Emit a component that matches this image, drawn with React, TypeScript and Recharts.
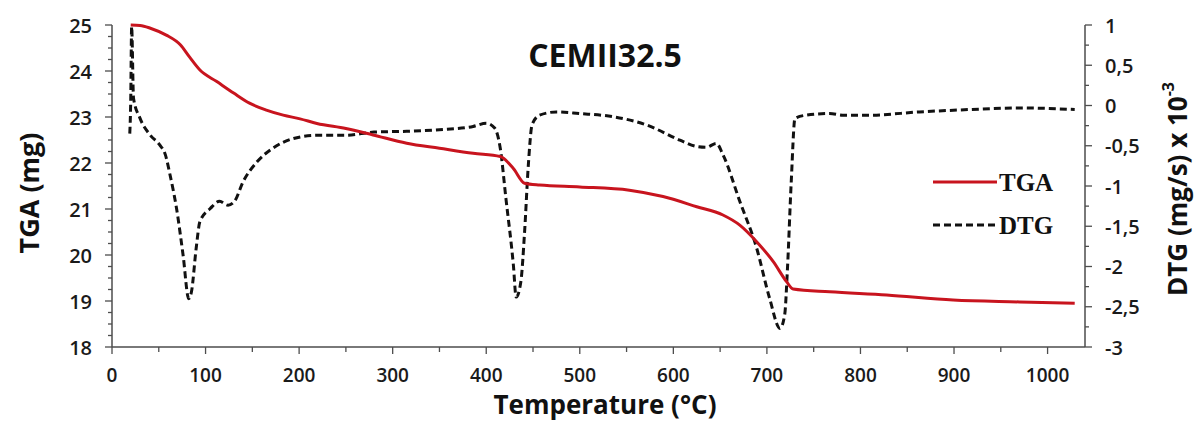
import React from 'react';
import { LineChart, Line, XAxis, YAxis } from 'recharts';

// TGA curve (mass in mg vs temperature in °C)
const tgaTemp = [20, 30, 41, 58, 73, 83, 94, 112, 130, 147, 165, 183, 201, 219, 250, 279, 315, 350, 386, 415, 429, 441, 457, 500, 553, 589, 625, 653, 671, 689, 707, 721, 728, 767, 828, 899, 970, 1029];
const tgaMass = [25.0, 24.99, 24.93, 24.78, 24.57, 24.3, 24.02, 23.77, 23.52, 23.3, 23.15, 23.04, 22.96, 22.86, 22.75, 22.61, 22.43, 22.32, 22.21, 22.14, 21.88, 21.56, 21.52, 21.48, 21.41, 21.27, 21.05, 20.87, 20.65, 20.29, 19.85, 19.42, 19.26, 19.2, 19.13, 19.02, 18.98, 18.95];

// DTG curve (mg/s x 10^-3 vs temperature in °C)
const dtgTemp = [19, 20, 21, 23, 30, 41, 51, 57, 62, 69, 76, 82, 85, 90, 94, 105, 115, 124, 131, 140, 155, 172, 194, 219, 250, 280, 315, 350, 386, 400, 409, 415, 421, 429, 432, 437, 441, 445, 449, 457, 475, 500, 536, 571, 607, 625, 635, 646, 653, 671, 689, 703, 714, 719, 722, 726, 730, 742, 767, 781, 810, 863, 917, 970, 1029];
const dtgRate = [-0.35, 0.05, 0.98, 0.09, -0.16, -0.37, -0.49, -0.61, -0.86, -1.28, -1.86, -2.4, -2.31, -1.77, -1.44, -1.28, -1.19, -1.24, -1.19, -0.95, -0.7, -0.53, -0.41, -0.37, -0.37, -0.33, -0.32, -0.3, -0.26, -0.22, -0.28, -0.53, -1.15, -1.98, -2.38, -2.19, -1.57, -0.74, -0.24, -0.12, -0.08, -0.1, -0.14, -0.24, -0.43, -0.51, -0.52, -0.47, -0.61, -1.19, -1.77, -2.4, -2.77, -2.6, -2.02, -0.95, -0.16, -0.12, -0.1, -0.12, -0.12, -0.08, -0.05, -0.03, -0.05];

// axis ticks (majors carry labels)
const xMajor = [0, 100, 200, 300, 400, 500, 600, 700, 800, 900, 1000];
const tgaMajor = [18, 19, 20, 21, 22, 23, 24, 25];
const dtgMajor = [-3, -2.5, -2, -1.5, -1, -0.5, 0, 0.5, 1];

const withMinors = (majors: number[], parts: number) => {
    const out: number[] = [];
    for (let i = 0; i < majors.length; i++) {
        out.push(majors[i]);
        if (i < majors.length - 1) {
            const step = (majors[i + 1] - majors[i]) / parts;
            for (let k = 1; k < parts; k++) out.push(+(majors[i] + k * step).toFixed(4));
        }
    }
    return out;
};

const xTicks = withMinors(xMajor, 2);
const tgaTicks = withMinors(tgaMajor, 4);
const dtgTicks = withMinors(dtgMajor, 2);

const tgaData = tgaTemp.map((t, i) => ({ t, v: tgaMass[i] }));
const dtgData = dtgTemp.map((t, i) => ({ t, v: dtgRate[i] }));

const W = 1187;
const H = 413;
const AXIS = '#4d4d4d';
const RED = '#c8141e';
const font = "'Open Sans', 'DejaVu Sans', sans-serif";
const tickText = { fontFamily: font, fontSize: 19, fontWeight: 600, fill: '#1a1a1a' } as const;

const XTick = (props: any) => {
    const { x, y, payload } = props;
    const major = xMajor.includes(payload.value);
    return (
        <g>
            <line x1={x} x2={x} y1={y} y2={y + (major ? 7 : 5)} stroke={AXIS} strokeWidth={1.3} />
            {major && (
                <text x={x} y={y + 28} textAnchor="middle" dominantBaseline="central" {...tickText}>
                    {payload.value}
                </text>
            )}
        </g>
    );
};

const TgaTick = (props: any) => {
    const { x, y, payload } = props;
    const major = tgaMajor.includes(payload.value);
    return (
        <g>
            <line x1={x - (major ? 7 : 4)} x2={x} y1={y} y2={y} stroke={AXIS} strokeWidth={1.3} />
            {major && (
                <text x={x - 20} y={y} textAnchor="end" dominantBaseline="central" {...tickText} fontSize={20}>
                    {payload.value}
                </text>
            )}
        </g>
    );
};

const DtgTick = (props: any) => {
    const { x, y, payload } = props;
    const major = dtgMajor.includes(payload.value);
    return (
        <g>
            <line x1={x} x2={x + (major ? 7 : 4)} y1={y} y2={y} stroke={AXIS} strokeWidth={1.3} />
            {major && (
                <text x={x + 20} y={y} textAnchor="start" dominantBaseline="central" {...tickText} fontSize={20}>
                    {String(payload.value).replace('.', ',')}
                </text>
            )}
        </g>
    );
};

export default function App() {
    return (
        <div style={{ position: 'relative', width: W, height: H }}>
            <LineChart width={W} height={H} margin={{ top: 17, right: 20, bottom: 0, left: 0 }}>
                <XAxis
                    dataKey="t"
                    type="number"
                    domain={[0, 1040]}
                    ticks={xTicks}
                    interval={0}
                    height={74}
                    tickSize={0}
                    tickMargin={0}
                    tick={<XTick />}
                    axisLine={{ stroke: AXIS, strokeWidth: 1.5 }}
                    tickLine={false}
                />
                <YAxis
                    yAxisId="tga"
                    type="number"
                    domain={[18, 25]}
                    ticks={tgaTicks}
                    interval={0}
                    width={104}
                    tickSize={0}
                    tickMargin={0}
                    tick={<TgaTick />}
                    axisLine={{ stroke: AXIS, strokeWidth: 1.5 }}
                    tickLine={false}
                />
                <YAxis
                    yAxisId="dtg"
                    orientation="right"
                    type="number"
                    domain={[-3, 1]}
                    ticks={dtgTicks}
                    interval={0}
                    width={90}
                    tickSize={0}
                    tickMargin={0}
                    tick={<DtgTick />}
                    axisLine={{ stroke: AXIS, strokeWidth: 1.5 }}
                    tickLine={false}
                />
                <Line
                    yAxisId="dtg"
                    data={dtgData}
                    dataKey="v"
                    type="monotone"
                    stroke="#111"
                    strokeWidth={3}
                    strokeDasharray="7 4"
                    dot={false}
                    isAnimationActive={false}
                />
                <Line
                    yAxisId="tga"
                    data={tgaData}
                    dataKey="v"
                    type="monotone"
                    stroke={RED}
                    strokeWidth={3}
                    dot={false}
                    isAnimationActive={false}
                />
            </LineChart>
            <svg width={W} height={H} style={{ position: 'absolute', left: 0, top: 0, pointerEvents: 'none' }}>
                <text x={597} y={46} textAnchor="middle" dominantBaseline="central" fontFamily={font} fontSize={32} fontWeight={700} fill="#111">
                    CEMII32.5
                </text>
                <text
                    x={20}
                    y={185}
                    transform="rotate(-90 20 185)"
                    textAnchor="middle"
                    dominantBaseline="central"
                    fontFamily={font}
                    fontSize={27}
                    fontWeight={700}
                    fill="#111"
                >
                    TGA (mg)
                </text>
                <text
                    x={1169}
                    y={181}
                    transform="rotate(-90 1169 181)"
                    textAnchor="middle"
                    dominantBaseline="central"
                    fontFamily={font}
                    fontSize={26}
                    fontWeight={700}
                    fill="#111"
                >
                    DTG (mg/s) x 10<tspan dy={-9} fontSize={16}>-3</tspan>
                </text>
                <text x={597} y={406} textAnchor="middle" fontFamily={font} fontSize={26} fontWeight={700} fill="#111">
                    Temperature (°C)
                </text>
                <line x1={925} x2={989} y1={174} y2={174} stroke={RED} strokeWidth={3} />
                <text x={991} y={174} dominantBaseline="central" fontFamily="'Liberation Serif', serif" fontSize={25} fontWeight={700} fill="#111">
                    TGA
                </text>
                <line x1={925} x2={989} y1={217} y2={217} stroke="#111" strokeWidth={3} strokeDasharray="7 4" />
                <text x={991} y={217} dominantBaseline="central" fontFamily="'Liberation Serif', serif" fontSize={25} fontWeight={700} fill="#111">
                    DTG
                </text>
            </svg>
        </div>
    );
}
